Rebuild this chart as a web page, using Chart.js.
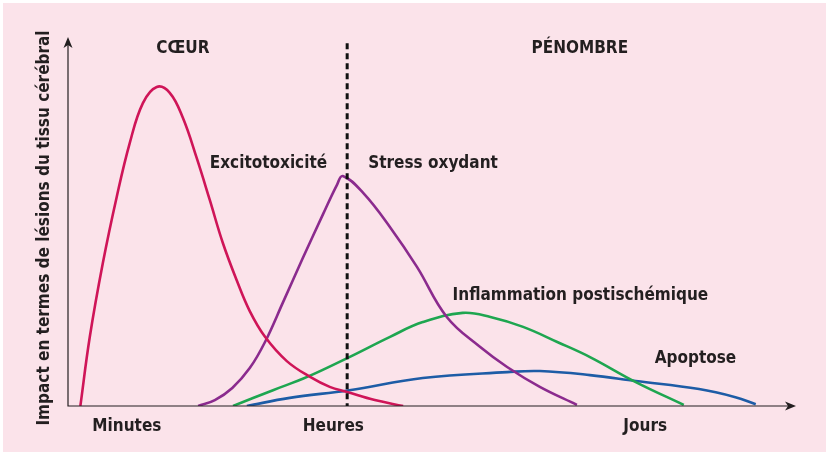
<!DOCTYPE html>
<html>
<head>
<meta charset="utf-8">
<script src="https://cdn.jsdelivr.net/npm/chart.js@4"></script>
<style>
  html, body { margin: 0; padding: 0; background: #fff; }
  #wrap { width: 832px; height: 458px; }
</style>
</head>
<body>
<div id="wrap"><canvas id="graphe" width="832" height="458"></canvas></div>
<script>
// Courbes (unités arbitraires, x = temps, y = impact)
var excitoX = [1.7, 3.0, 4.8, 6.7, 8.5, 10.3, 12.2, 14.0, 15.8, 17.7, 19.5, 21.3, 23.3, 25.0, 27.1, 30.1, 33.3, 36.0, 38.4, 42.2, 46.1];
var excitoY = [0, 18.8, 38.9, 56.8, 71.5, 82.3, 86.7, 85.1, 78.3, 67.4, 56.0, 44.3, 33.7, 25.8, 18.8, 12.2, 7.9, 5.2, 3.8, 1.6, 0];

var stressX = [17.9, 20.2, 22.6, 25.0, 27.1, 29.6, 32.3, 35.1, 37.0, 37.8, 40.6, 44.3, 48.0, 52.1, 56.7, 60.4, 64.9, 70.0];
var stressY = [0, 1.6, 4.9, 10.3, 17.4, 28.3, 40.2, 52.2, 60.1, 62.5, 57.9, 48.6, 37.8, 24.2, 16.0, 10.6, 5.2, 0.3];

var inflamX = [22.7, 28.2, 32.9, 38.7, 44.3, 48.8, 54.3, 58.1, 62.6, 67.3, 71.8, 78.1, 84.7];
var inflamY = [0, 4.3, 7.9, 13.3, 18.8, 22.8, 25.3, 24.2, 21.5, 17.4, 13.3, 6.5, 0.3];

var apoptX = [24.6, 30.5, 38.7, 48.8, 60.4, 64.9, 71.8, 78.1, 86.8, 91.8, 94.6];
var apoptY = [0, 2.2, 4.3, 7.6, 9.2, 9.5, 8.4, 6.8, 4.6, 2.4, 0.5];

// Graduations de l'axe du temps
var tickLabels = ["Minutes", "Heures", "Jours"];
var tickValues = [8.1, 36.5, 79.4];

// Séparation cœur / pénombre
var limiteX = 38.4;

var police = "'Liberation Sans Narrow', 'DejaVu Sans Condensed', 'Roboto Condensed', 'Liberation Sans', sans-serif";
var encre = "#231f20";

function points(xs, ys) {
    return xs.map(function(x, i) { return { x: x, y: ys[i] }; });
}

function courbe(nom, xs, ys, couleur) {
    return {
        label: nom,
        data: points(xs, ys),
        borderColor: couleur,
        borderWidth: 2.6,
        pointRadius: 0,
        showLine: true,
        fill: false,
        tension: 0.4
    };
}

// Textes posés sur le graphique (coordonnées dans les unités des axes)
var etiquettes = [
    { texte: "CŒUR", x: 15.8, y: 97, align: "center" },
    { texte: "PÉNOMBRE", x: 70.4, y: 97, align: "center" },
    { texte: "Excitotoxicité", x: 19.5, y: 65.9, align: "left" },
    { texte: "Stress oxydant", x: 41.3, y: 65.9, align: "left" },
    { texte: "Inflammation postischémique", x: 52.9, y: 30.0, align: "left" },
    { texte: "Apoptose", x: 80.7, y: 12.8, align: "left" }
];

var decor = {
    id: "decor",
    beforeDraw: function(chart) {
        var ctx = chart.ctx;
        ctx.save();
        ctx.fillStyle = "#ffffff";
        ctx.fillRect(0, 0, chart.width, chart.height);
        ctx.fillStyle = "#fbe3ea";
        ctx.fillRect(3, 3, 823, 449);
        ctx.restore();
    },
    afterDatasetsDraw: function(chart) {
        var ctx = chart.ctx;
        var xs = chart.scales.x, ys = chart.scales.y;
        var x0 = xs.getPixelForValue(0), y0 = ys.getPixelForValue(0);
        var xFin = xs.getPixelForValue(100), yFin = ys.getPixelForValue(100);

        ctx.save();
        // axes + flèches
        ctx.strokeStyle = encre;
        ctx.fillStyle = encre;
        ctx.lineWidth = 1.2;
        ctx.beginPath();
        ctx.moveTo(x0, yFin + 4);
        ctx.lineTo(x0, y0);
        ctx.lineTo(xFin - 4, y0);
        ctx.stroke();

        ctx.beginPath();
        ctx.moveTo(xFin + 1, y0);
        ctx.lineTo(xFin - 10, y0 - 4.5);
        ctx.lineTo(xFin - 7, y0);
        ctx.lineTo(xFin - 10, y0 + 4.5);
        ctx.closePath();
        ctx.fill();

        ctx.beginPath();
        ctx.moveTo(x0, yFin - 1);
        ctx.lineTo(x0 - 4.5, yFin + 10);
        ctx.lineTo(x0, yFin + 7);
        ctx.lineTo(x0 + 4.5, yFin + 10);
        ctx.closePath();
        ctx.fill();

        // limite pointillée
        var xl = xs.getPixelForValue(limiteX);
        ctx.lineWidth = 3;
        ctx.strokeStyle = "#111";
        ctx.setLineDash([6, 4]);
        ctx.beginPath();
        ctx.moveTo(xl, ys.getPixelForValue(98.6));
        ctx.lineTo(xl, y0);
        ctx.stroke();
        ctx.setLineDash([]);

        // textes
        ctx.font = "600 17px " + police;
        ctx.textBaseline = "middle";
        ctx.fillStyle = encre;
        etiquettes.forEach(function(e) {
            ctx.textAlign = e.align;
            ctx.fillText(e.texte, xs.getPixelForValue(e.x), ys.getPixelForValue(e.y));
        });

        ctx.textAlign = "center";
        tickLabels.forEach(function(t, i) {
            ctx.fillText(t, xs.getPixelForValue(tickValues[i]), y0 + 21);
        });

        // titre de l'axe vertical
        ctx.translate(45, (yFin + y0) / 2 + 6);
        ctx.rotate(-Math.PI / 2);
        ctx.fillText("Impact en termes de lésions du tissu cérébral", 0, 0);
        ctx.restore();
    }
};

var ctx = document.getElementById("graphe").getContext("2d");
var graphe = new Chart(ctx, {
    type: "scatter",
    data: {
        datasets: [
            courbe("Excitotoxicité", excitoX, excitoY, "#cf1558"),
            courbe("Stress oxydant", stressX, stressY, "#8b2b8e"),
            courbe("Inflammation postischémique", inflamX, inflamY, "#1ea650"),
            courbe("Apoptose", apoptX, apoptY, "#1d5ca6")
        ]
    },
    options: {
        responsive: false,
        animation: false,
        layout: { padding: { left: 68, right: 37, top: 38, bottom: 52 } },
        plugins: { legend: { display: false }, tooltip: { enabled: false } },
        scales: {
            x: { type: "linear", min: 0, max: 100, display: false },
            y: { min: 0, max: 100, display: false }
        }
    },
    plugins: [decor]
});
</script>
</body>
</html>
